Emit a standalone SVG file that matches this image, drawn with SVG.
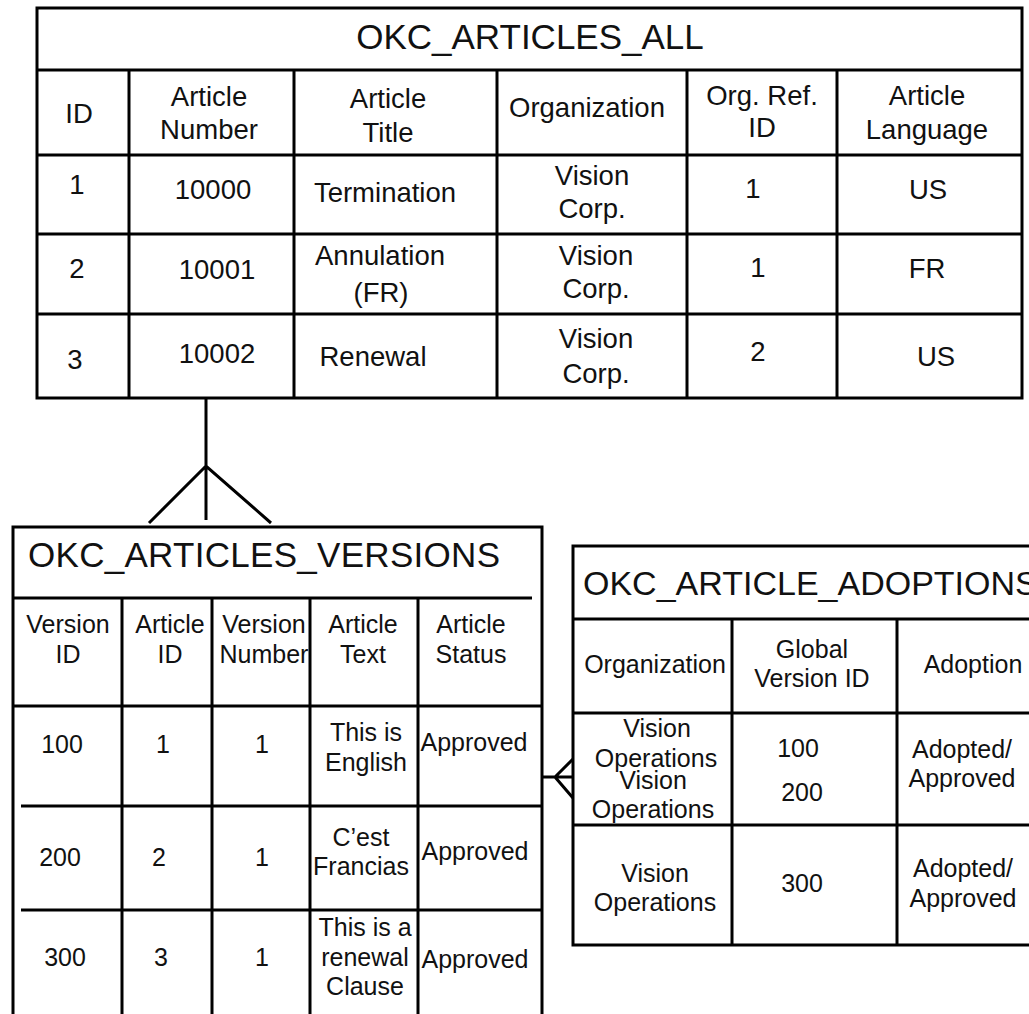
<svg xmlns="http://www.w3.org/2000/svg" width="1029" height="1014" viewBox="0 0 1029 1014">
<style>
.ln{stroke:#000;stroke-width:3;fill:none}
text{font-family:"Liberation Sans",Arial,sans-serif;fill:#111}
.t{font-size:35px}
.a{font-size:27.5px;text-anchor:middle}
.b{font-size:25px;text-anchor:middle}
</style>
<rect width="1029" height="1014" fill="#fff"/>
<g id="okc_articles_all">
<rect class="ln" x="37" y="8" width="985" height="390"/>
<path class="ln" d="M37 70H1022M37 155H1022M37 234H1022M37 314H1022M129 70V398M294 70V398M497 70V398M687 70V398M837 70V398"/>
<text class="t" x="530" y="49" text-anchor="middle">OKC_ARTICLES_ALL</text>
<text class="a" x="79" y="123">ID</text>
<text class="a" x="209" y="106">Article</text><text class="a" x="209" y="139">Number</text>
<text class="a" x="388" y="108">Article</text><text class="a" x="388" y="142">Title</text>
<text class="a" x="587" y="117">Organization</text>
<text class="a" x="762" y="105">Org. Ref.</text><text class="a" x="762" y="137">ID</text>
<text class="a" x="927" y="105">Article</text><text class="a" x="927" y="139">Language</text>
<text class="a" x="77" y="194">1</text>
<text class="a" x="213" y="199">10000</text>
<text class="a" x="385" y="202">Termination</text>
<text class="a" x="592" y="185">Vision</text><text class="a" x="592" y="218">Corp.</text>
<text class="a" x="753" y="198">1</text>
<text class="a" x="928" y="199">US</text>
<text class="a" x="77" y="278">2</text>
<text class="a" x="217" y="279">10001</text>
<text class="a" x="380" y="265">Annulation</text><text class="a" x="381" y="302">(FR)</text>
<text class="a" x="596" y="265">Vision</text><text class="a" x="596" y="298">Corp.</text>
<text class="a" x="758" y="277">1</text>
<text class="a" x="927" y="278">FR</text>
<text class="a" x="75" y="369">3</text>
<text class="a" x="217" y="363">10002</text>
<text class="a" x="373" y="366">Renewal</text>
<text class="a" x="596" y="348">Vision</text><text class="a" x="596" y="383">Corp.</text>
<text class="a" x="758" y="361">2</text>
<text class="a" x="936" y="366">US</text>
</g>
<g id="okc_articles_versions">
<path class="ln" d="M13 1014V527H542V1014"/>
<path class="ln" d="M13 598H532M13 706H542M21 806H542M21 910H542M122 598V1014M212 598V1014M310 598V1014M418 598V1014"/>
<text class="t" x="28" y="567" textLength="472">OKC_ARTICLES_VERSIONS</text>
<text class="b" x="68" y="633">Version</text><text class="b" x="68" y="663">ID</text>
<text class="b" x="170" y="633">Article</text><text class="b" x="170" y="663">ID</text>
<text class="b" x="264" y="633">Version</text><text class="b" x="264" y="663">Number</text>
<text class="b" x="363" y="633">Article</text><text class="b" x="363" y="663">Text</text>
<text class="b" x="471" y="633">Article</text><text class="b" x="471" y="663">Status</text>
<text class="b" x="62" y="753">100</text>
<text class="b" x="163" y="753">1</text>
<text class="b" x="262" y="753">1</text>
<text class="b" x="366" y="741">This is</text><text class="b" x="366" y="771">English</text>
<text class="b" x="474" y="751">Approved</text>
<text class="b" x="60" y="866">200</text>
<text class="b" x="159" y="866">2</text>
<text class="b" x="262" y="866">1</text>
<text class="b" x="361" y="846">C’est</text><text class="b" x="361" y="875">Francias</text>
<text class="b" x="475" y="860">Approved</text>
<text class="b" x="65" y="966">300</text>
<text class="b" x="161" y="966">3</text>
<text class="b" x="262" y="966">1</text>
<text class="b" x="365" y="936">This is a</text><text class="b" x="365" y="966">renewal</text><text class="b" x="365" y="995">Clause</text>
<text class="b" x="475" y="968">Approved</text>
</g>
<g id="okc_article_adoptions">
<path class="ln" d="M1035 546H573V945H1035"/>
<path class="ln" d="M572 619H1035M573 713H1035M573 825H1035M732 619V945M897 619V945"/>
<text class="t" x="583" y="595" style="font-size:34px">OKC_ARTICLE_ADOPTIONS</text>
<text class="b" x="655" y="673">Organization</text>
<text class="b" x="812" y="658">Global</text><text class="b" x="812" y="687">Version ID</text>
<text class="b" x="973" y="673">Adoption</text>
<text class="b" x="657" y="737">Vision</text><text class="b" x="656" y="767">Operations</text>
<text class="b" x="653" y="789">Vision</text><text class="b" x="653" y="818">Operations</text>
<text class="b" x="798" y="757">100</text><text class="b" x="802" y="801">200</text>
<text class="b" x="962" y="758">Adopted/</text><text class="b" x="962" y="787">Approved</text>
<text class="b" x="655" y="882">Vision</text><text class="b" x="655" y="911">Operations</text>
<text class="b" x="802" y="892">300</text>
<text class="b" x="963" y="877">Adopted/</text><text class="b" x="963" y="907">Approved</text>
</g>
<g id="connectors">
<path class="ln" d="M206 398V520M149 523L206 466L271 523"/>
<path class="ln" d="M542 777H573M573 759L555 777L573 798"/>
</g>
</svg>
